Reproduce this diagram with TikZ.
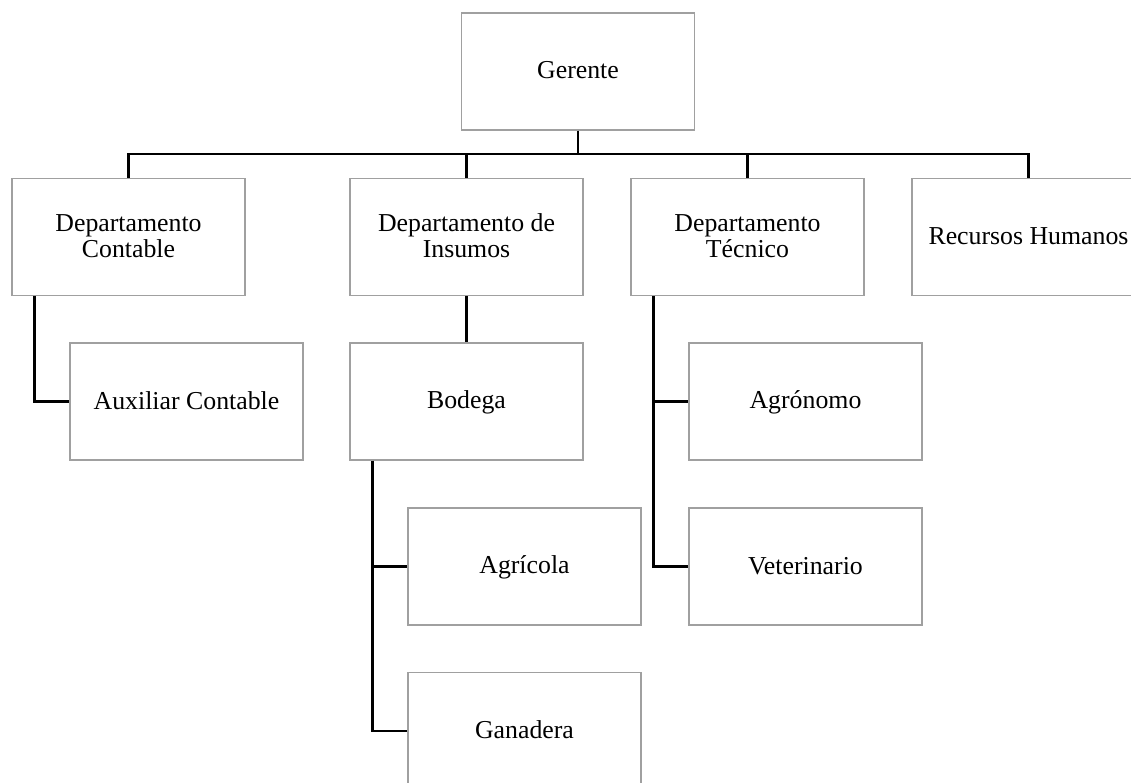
\documentclass[tikz,border=0pt]{standalone}
\usepackage{fontspec}
\setmainfont{Liberation Serif}
\definecolor{boxgray}{RGB}{160,160,160}
\newcommand{\orgstrut}{\rule[-4pt]{0pt}{23pt}}
\begin{document}
\begin{tikzpicture}[x=1pt,y=-1pt,
  orgbox/.style={draw=boxgray,line width=1.3pt,fill=white,minimum width=233pt,minimum height=117pt,
    align=center,inner sep=0pt,font=\fontsize{25.8pt}{26.7pt}\selectfont},
  link/.style={draw=black,line width=2.6pt}]
\useasboundingbox (0,0) rectangle (1131,783);
\coordinate (bus) at (0,154);
\node[orgbox] (ger) at (578,71.5) {\orgstrut Gerente};
\node[orgbox] (dc) at (128.5,237) {\orgstrut Departamento\\\orgstrut Contable};
\node[orgbox] (di) at (466.5,237) {\orgstrut Departamento de\\\orgstrut Insumos};
\node[orgbox] (dt) at (747.5,237) {\orgstrut Departamento\\\orgstrut Técnico};
\node[orgbox] (rh) at (1028.5,237) {\orgstrut Recursos Humanos};
\node[orgbox] (aux) at (186.5,401.5) {\orgstrut Auxiliar Contable};
\node[orgbox] (bod) at (466.5,401.5) {\orgstrut Bodega};
\node[orgbox] (agr) at (524.5,566.5) {\orgstrut Agrícola};
\node[orgbox] (gan) at (524.5,731) {\orgstrut Ganadera};
\node[orgbox] (agro) at (805.5,401.5) {\orgstrut Agrónomo};
\node[orgbox] (vet) at (805.5,566.5) {\orgstrut Veterinario};
\draw[link] (ger.south) -- (ger.south |- bus);
\draw[link] (dc.north) -- (dc.north |- bus) -- (rh.north |- bus) -- (rh.north);
\draw[link] (di.north) -- (di.north |- bus);
\draw[link] (dt.north) -- (dt.north |- bus);
\coordinate (ct) at ([xshift=23pt]dc.south west);
\draw[link] (ct) |- (aux.west);
\draw[link] (di.south) -- (bod.north);
\coordinate (bt) at ([xshift=23pt]bod.south west);
\draw[link] (bt) |- (gan.west);
\draw[link] (bt |- agr.west) -- (agr.west);
\coordinate (tt) at ([xshift=23pt]dt.south west);
\draw[link] (tt) |- (vet.west);
\draw[link] (tt |- agro.west) -- (agro.west);
\end{tikzpicture}
\end{document}
